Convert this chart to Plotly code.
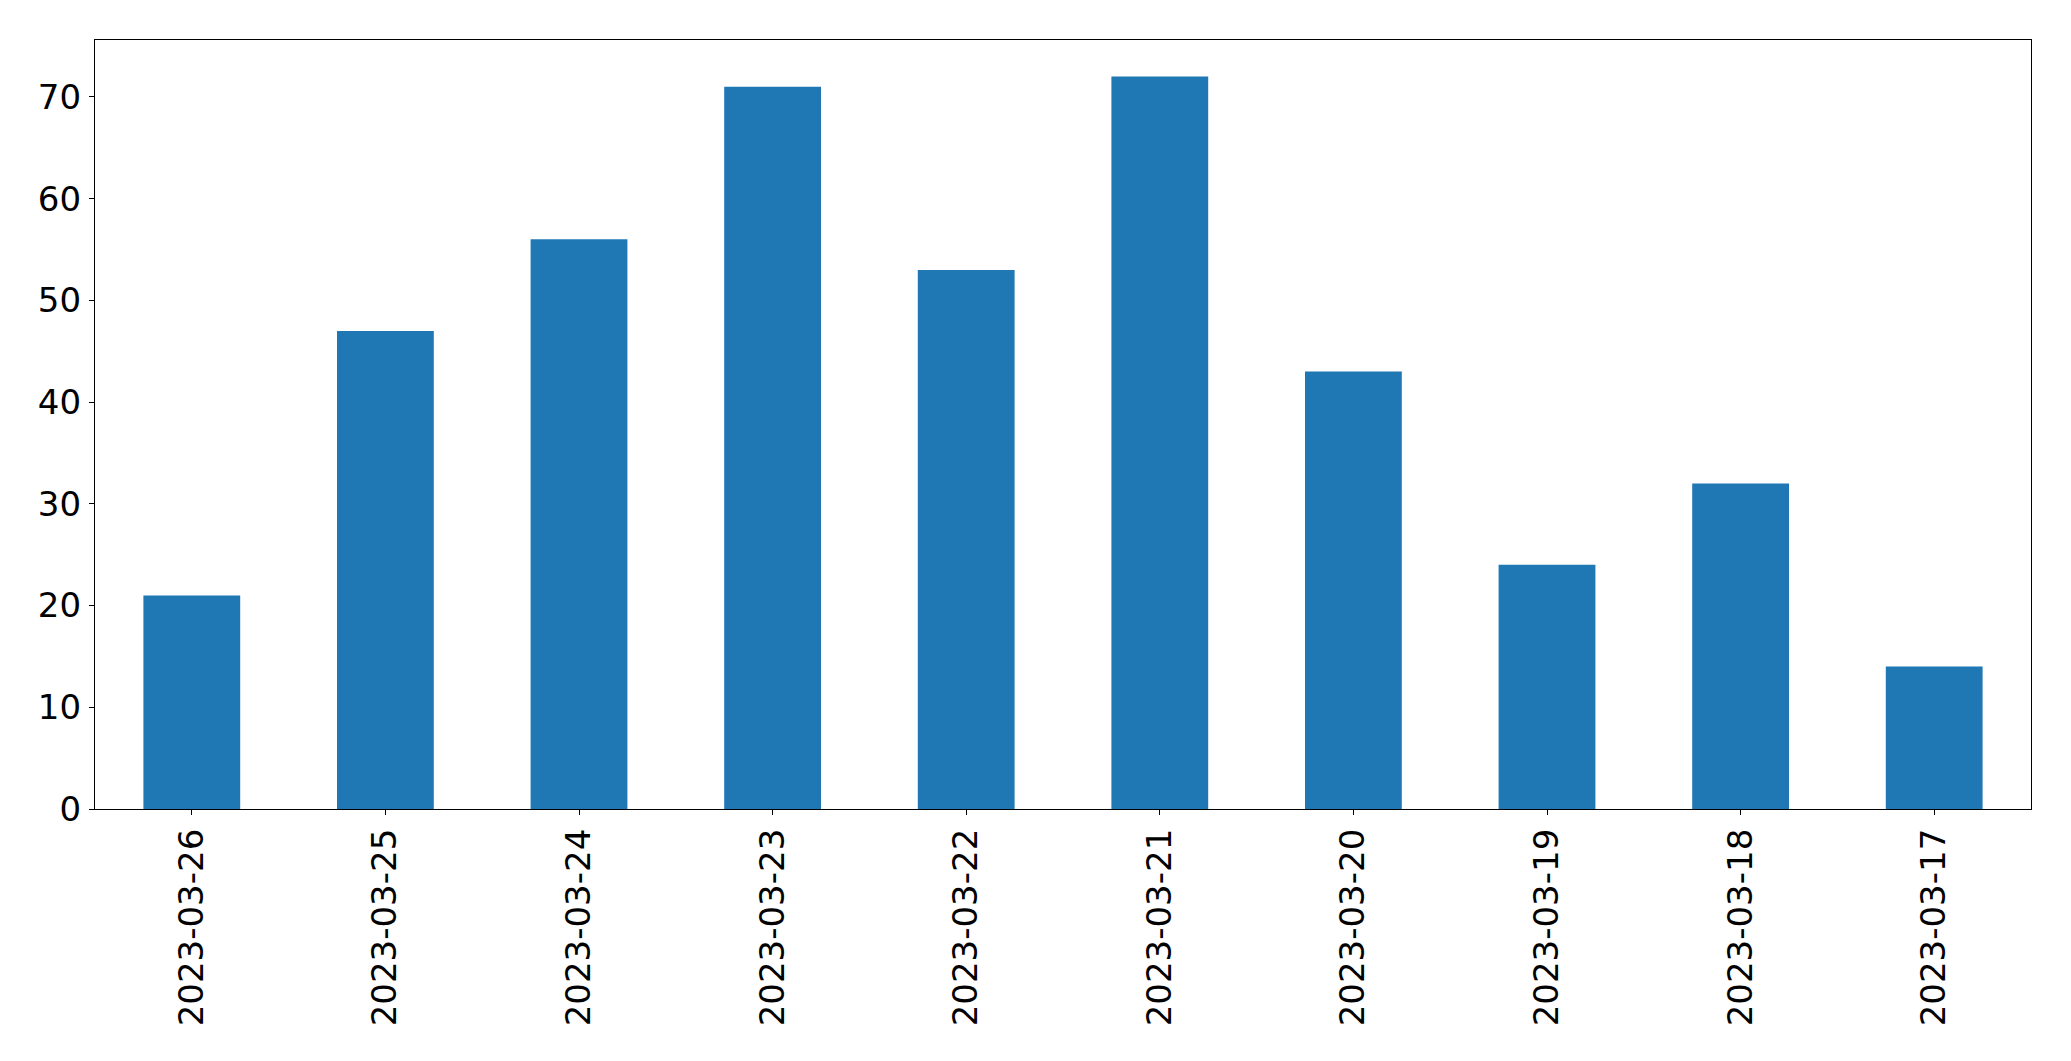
import plotly.graph_objects as go

dates = ["2023-03-26", "2023-03-25", "2023-03-24", "2023-03-23", "2023-03-22",
         "2023-03-21", "2023-03-20", "2023-03-19", "2023-03-18", "2023-03-17"]
counts = [21, 47, 56, 71, 53, 72, 43, 24, 32, 14]

fig = go.Figure(go.Bar(
    x=dates, y=counts, width=0.5,
    marker=dict(color="#1f77b4", line=dict(width=0)),
))

font = dict(family="DejaVu Sans", size=34, color="black")
fig.update_layout(
    width=2071, height=1061,
    margin=dict(l=94.5, r=39.5, t=39.5, b=252, autoexpand=False),
    paper_bgcolor="white", plot_bgcolor="white",
    showlegend=False,
    font=font,
)
fig.update_xaxes(
    type="category", range=[-0.5, 9.5],
    tickangle=-90, tickfont=font,
    showline=True, mirror=True, linecolor="black", linewidth=1.3,
    ticks="outside", ticklen=5, tickwidth=1.3, tickcolor="black",
    showgrid=False, zeroline=False, ticklabelstandoff=0,
)
fig.update_yaxes(
    range=[0, 75.6], tickvals=[0, 10, 20, 30, 40, 50, 60, 70],
    tickfont=font,
    showline=True, mirror=True, linecolor="black", linewidth=1.3,
    ticks="outside", ticklen=5, tickwidth=1.3, tickcolor="black",
    showgrid=False, zeroline=False, ticklabelstandoff=1,
)
fig.write_html("out.html")
